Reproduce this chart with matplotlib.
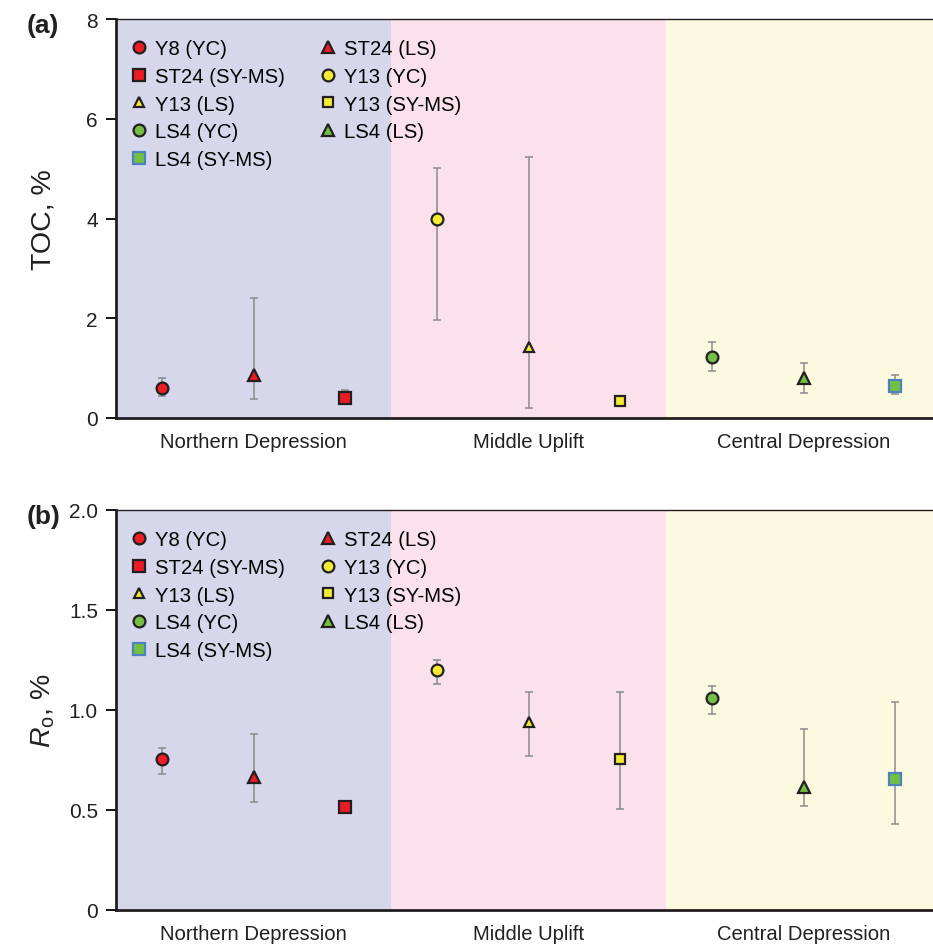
import numpy as np
import matplotlib
matplotlib.use("Agg")
import matplotlib.pyplot as plt

plt.rcParams["font.family"] = ["Liberation Sans", "DejaVu Sans"]
plt.rcParams["mathtext.fontset"] = "custom"
plt.rcParams["mathtext.rm"] = "Liberation Sans"
plt.rcParams["mathtext.it"] = "Liberation Sans:italic"

# ---
# Data
# ---
regions = ["Northern Depression", "Middle Uplift", "Central Depression"]
labels = ["Y8 (YC)", "ST24 (LS)", "ST24 (SY-MS)",
          "Y13 (YC)", "Y13 (LS)", "Y13 (SY-MS)",
          "LS4 (YC)", "LS4 (LS)", "LS4 (SY-MS)"]

toc = [0.60, 0.87, 0.41, 4.00, 1.42, 0.35, 1.23, 0.80, 0.65]
toc_hi = [0.80, 2.40, 0.57, 5.01, 5.24, 0.35, 1.52, 1.10, 0.87]
toc_lo = [0.45, 0.39, 0.28, 1.96, 0.21, 0.35, 0.95, 0.51, 0.49]

ro = [0.755, 0.665, 0.516, 1.20, 0.94, 0.754, 1.06, 0.615, 0.655]
ro_hi = [0.81, 0.88, 0.516, 1.25, 1.09, 1.09, 1.12, 0.905, 1.04]
ro_lo = [0.68, 0.54, 0.516, 1.13, 0.77, 0.505, 0.98, 0.52, 0.43]

# ---
# Styles
# ---
red, yellow, green = "#ED1C24", "#F2EA33", "#72BF44"
face = [red, red, red, yellow, yellow, yellow, green, green, green]
edge = ["#231F20"] * 8 + ["#4F81C0"]
marker = ["o", "^", "s"] * 3
msize = [8.5, 8.5, 8.5, 8.5, 7, 7.5, 8.5, 8.5, 8]
bg = ["#D6D7EA", "#FAE1EC", "#FCF9E1"]
ink = "#231F20"

x = np.arange(len(labels)) + 0.5

fig = plt.figure(figsize=(9.33, 9.45), dpi=100)
ax_a = fig.add_axes([116 / 933, 526 / 945, 825 / 933, 399 / 945])
ax_b = fig.add_axes([116 / 933, 34.3 / 945, 825 / 933, 399.7 / 945])


def draw(ax, vals, hi, lo, ymax, yticks, yticklabels, ylabel, tag):
    for i, c in enumerate(bg):
        ax.axvspan(3 * i, 3 * i + 3, color=c, lw=0, zorder=0)
    handles = []
    for i in range(len(labels)):
        err = [[vals[i] - lo[i]], [hi[i] - vals[i]]]
        ax.errorbar(x[i], vals[i], yerr=err, fmt="none", ecolor="#8C8C8C",
                    elinewidth=1.1, capsize=3, capthick=1.1, zorder=2)
        h, = ax.plot(x[i], vals[i], marker=marker[i], ms=msize[i], mfc=face[i],
                     mec=edge[i], mew=1.6, ls="none", zorder=3, label=labels[i])
        handles.append(h)
    ax.set_xlim(0, 9)
    ax.set_ylim(0, ymax)
    ax.set_yticks(yticks)
    ax.set_yticklabels(yticklabels, fontsize=15, color=ink)
    ax.set_xticks([1.5, 4.5, 7.5])
    ax.set_xticklabels(regions, fontsize=14.6, color=ink)
    ax.tick_params(axis="x", length=0, pad=10)
    ax.tick_params(axis="y", length=7, width=1.3, direction="out", pad=6)
    for s in ["left", "bottom"]:
        ax.spines[s].set_linewidth(2.0)
        ax.spines[s].set_color(ink)
    ax.spines["top"].set_linewidth(1.0)
    ax.spines["top"].set_color(ink)
    ax.spines["right"].set_visible(False)
    ax.set_ylabel(ylabel, fontsize=20.5, color=ink)
    ax.yaxis.set_label_coords(-0.072, 0.5)
    # legend in row-major order -> reorder for column fill
    order = [0, 2, 4, 6, 8, 1, 3, 5, 7]
    ax.legend([handles[k] for k in order], [labels[k] for k in order],
              ncol=2, loc="upper left", frameon=False, fontsize=14.6,
              handletextpad=0.3, columnspacing=1.6, labelspacing=0.43,
              handlelength=1.0, borderaxespad=0.0,
              bbox_to_anchor=(0.006, 0.970))
    fig.text(27 / 933, ax.get_position().y1 - 0.006, tag, fontsize=19,
             fontweight="bold", color=ink, va="center", ha="left")


draw(ax_a, toc, toc_hi, toc_lo, 8, [0, 2, 4, 6, 8], ["0", "2", "4", "6", "8"],
     "TOC, %", "(a)")
draw(ax_b, ro, ro_hi, ro_lo, 2.0, [0, 0.5, 1.0, 1.5, 2.0],
     ["0", "0.5", "1.0", "1.5", "2.0"], r"$R_{\mathrm{o}}$, %", "(b)")

fig.savefig("out.png", dpi=100)
